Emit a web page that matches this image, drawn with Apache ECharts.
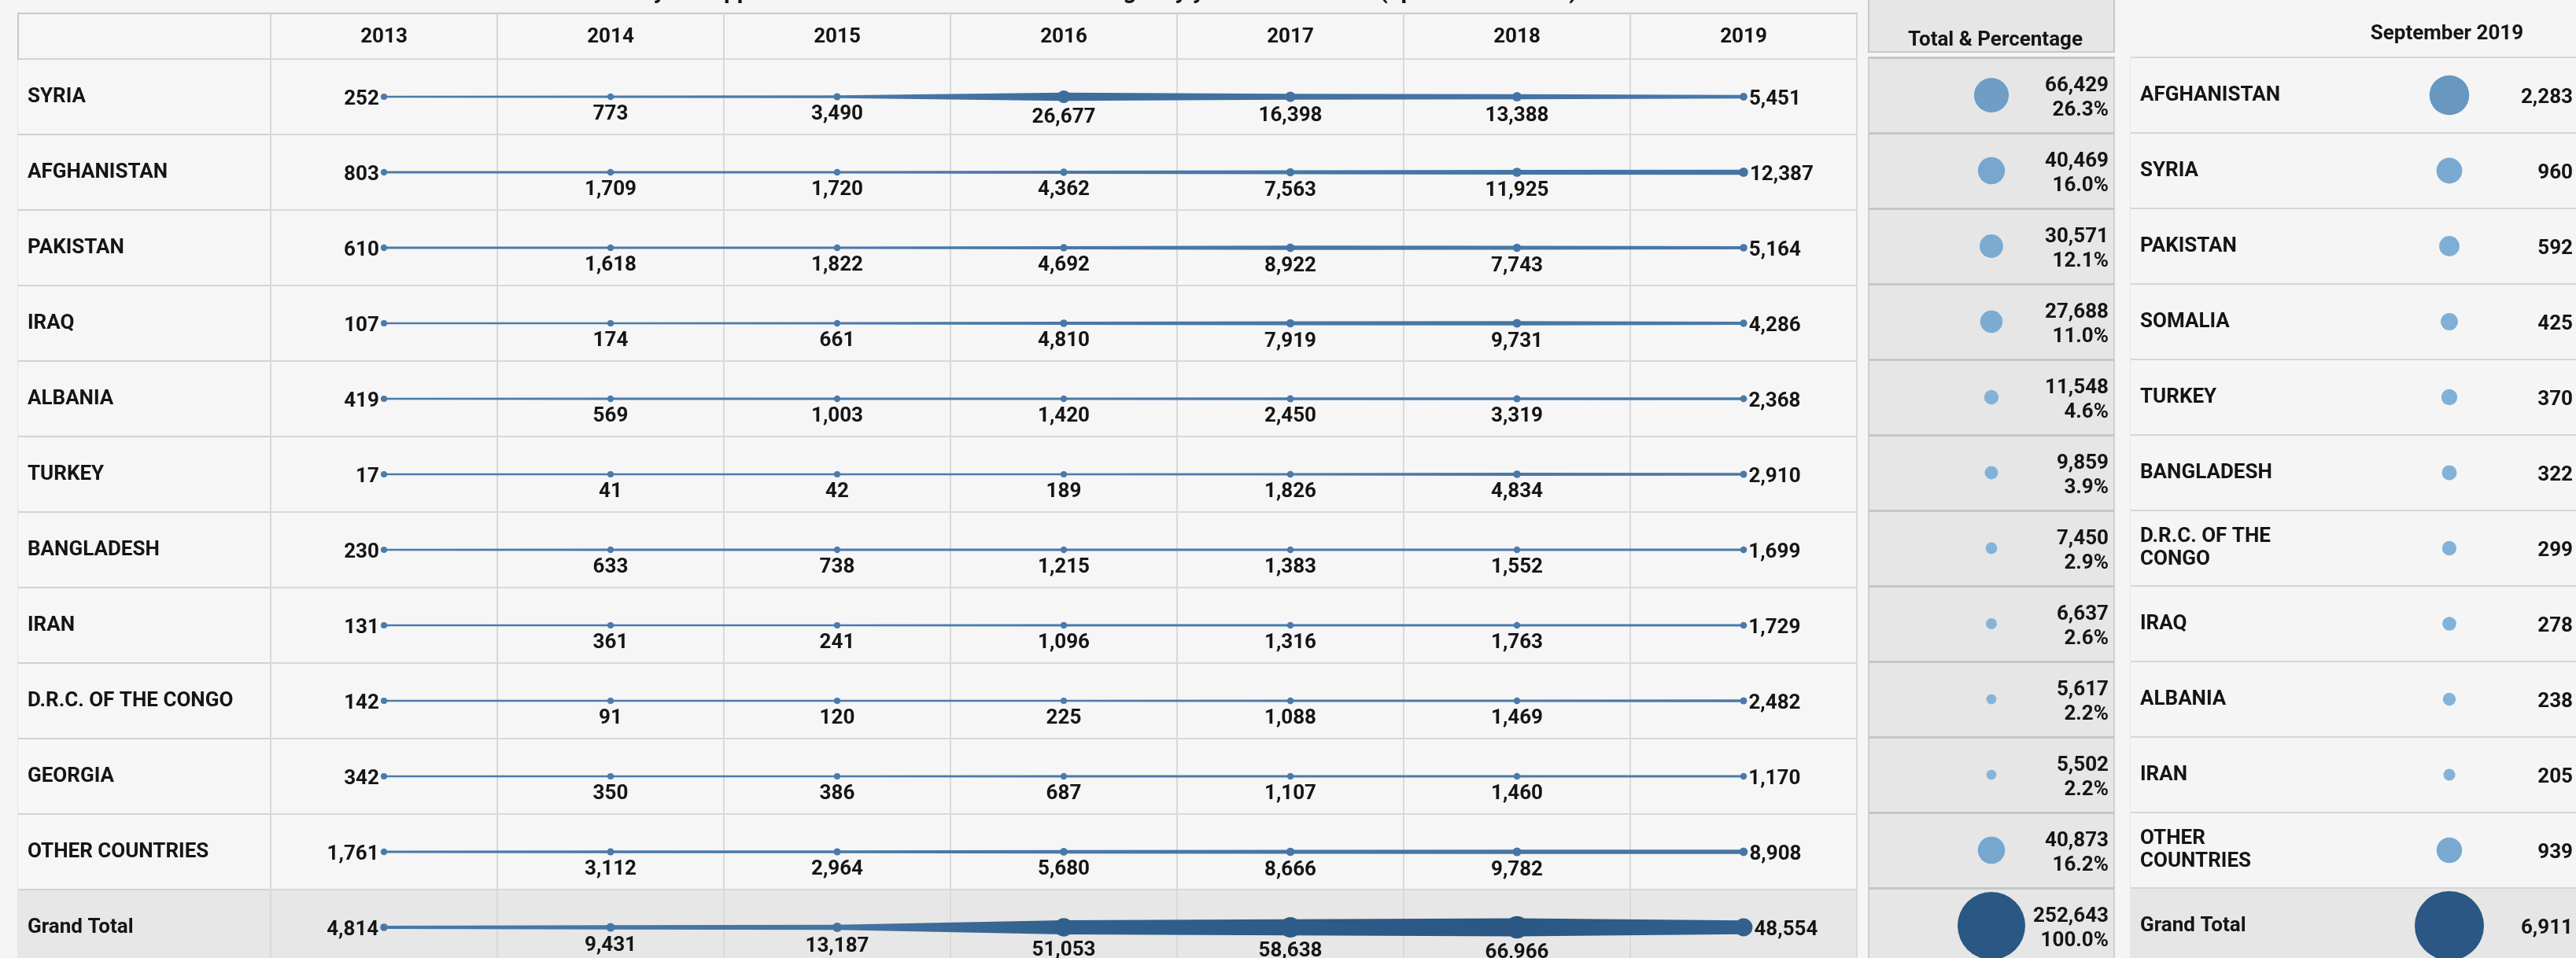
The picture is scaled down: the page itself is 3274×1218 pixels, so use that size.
<!DOCTYPE html>
<html><head><meta charset="utf-8">
<script src="https://cdn.jsdelivr.net/npm/echarts@6/dist/echarts.min.js"></script>
<style>html,body{margin:0;padding:0;background:#f5f5f5;}#c{width:3274px;height:1218px;}</style>
</head><body><div id="c"></div>
<script>
// ---------- data ----------
const years = ['2013','2014','2015','2016','2017','2018','2019'];
const countries = ['SYRIA','AFGHANISTAN','PAKISTAN','IRAQ','ALBANIA','TURKEY','BANGLADESH','IRAN','D.R.C. OF THE CONGO','GEORGIA','OTHER COUNTRIES','Grand Total'];
const syria       = [252, 773, 3490, 26677, 16398, 13388, 5451];
const afghanistan = [803, 1709, 1720, 4362, 7563, 11925, 12387];
const pakistan    = [610, 1618, 1822, 4692, 8922, 7743, 5164];
const iraq        = [107, 174, 661, 4810, 7919, 9731, 4286];
const albania     = [419, 569, 1003, 1420, 2450, 3319, 2368];
const turkey      = [17, 41, 42, 189, 1826, 4834, 2910];
const bangladesh  = [230, 633, 738, 1215, 1383, 1552, 1699];
const iran        = [131, 361, 241, 1096, 1316, 1763, 1729];
const drCongo     = [142, 91, 120, 225, 1088, 1469, 2482];
const georgia     = [342, 350, 386, 687, 1107, 1460, 1170];
const others      = [1761, 3112, 2964, 5680, 8666, 9782, 8908];
const grandTotal  = [4814, 9431, 13187, 51053, 58638, 66966, 48554];
const totals      = [66429, 40469, 30571, 27688, 11548, 9859, 7450, 6637, 5617, 5502, 40873, 252643];
const percents    = [26.3, 16.0, 12.1, 11.0, 4.6, 3.9, 2.9, 2.6, 2.2, 2.2, 16.2, 100.0];
const sepCountries = ['AFGHANISTAN','SYRIA','PAKISTAN','SOMALIA','TURKEY','BANGLADESH','D.R.C. OF THE CONGO','IRAQ','ALBANIA','IRAN','OTHER COUNTRIES','Grand Total'];
const sepValues    = [2283, 960, 592, 425, 370, 322, 299, 278, 238, 205, 939, 6911];
const rows = [syria, afghanistan, pakistan, iraq, albania, turkey, bangladesh, iran, drCongo, georgia, others, grandTotal];

// ---------- helpers ----------
const FONT = 'Roboto, "Noto Sans", sans-serif';
const TXT = '#151515';
const fmt = v => v.toLocaleString('en-US');
function hex(h){return [1,3,5].map(i=>parseInt(h.substr(i,2),16));}
function mix(a,b,t){t=Math.max(0,Math.min(1,t));const A=hex(a),B=hex(b);
  return 'rgb('+A.map((x,i)=>Math.round(x+(B[i]-x)*t)).join(',')+')';}
const lineW = v => 2.6 + v*0.000305;
const lineCol = v => mix('#4b7bab','#2a5783', v/67000);
const bubCol = (v,max) => mix('#86b6dc','#2a5783', v/max);
const totMax = Math.max(...totals), sepMax = Math.max(...sepValues);
const nRows = countries.length;
const rowAreas = countries.map((c,i)=> i===nRows-1 ? '#e7e7e7' : '#f6f6f6');
const sepAreas = sepCountries.map((c,i)=> i===nRows-1 ? '#e6e6e6' : '#f5f5f5');
const labelBase = {fontFamily: FONT, fontWeight: 'bold', fontSize: 26, color: TXT};

// line segments
const segData = [];
rows.forEach((r,ri)=>{ for(let i=0;i<r.length-1;i++) segData.push([i, ri, r[i], r[i+1]]); });
// dots
const dotData = [];
rows.forEach((r,ri)=>{ r.forEach((v,i)=>{
  const last = i===r.length-1, first = i===0;
  dotData.push({value:[i, ri, v], symbolSize: lineW(v)+5.5, itemStyle:{color: lineCol(v), opacity:1},
    label:{position: first?'left':(last?'right':'bottom'), distance: first||last?2:5, offset: first||last?[0,3]:[0,0]}});
});});

const hiddenVal = (g)=>({type:'value', gridIndex:g, show:false});
const splitL = (c,w)=>({show:true, interval:0, lineStyle:{color:c, width:w}});
const G = (o)=>Object.assign({show:true, outerBoundsMode:'none', containLabel:false}, o);

const option = {
  animation:false,
  backgroundColor:'#f5f5f5',
  title:[
    {text:'Asylum applications from main countries of origin by year 2013 - 2019 (up to 30.09.2019)', left:790, top:-30,
     textStyle:{fontFamily:FONT, fontWeight:'bold', fontSize:30, color:TXT}},
    {text:'Total & Percentage', left:2531, top:33, textAlign:'center', textStyle:labelBase},
    {text:'September 2019', left:3105, top:25, textAlign:'center', textStyle:labelBase}
  ],
  grid:[
    G({left:23, top:17, width:321, height:58, backgroundColor:'#f6f6f6', borderColor:'#c9c9c9', borderWidth:2}),
    G({left:344, top:17, width:2016, height:58, backgroundColor:'#f6f6f6', borderColor:'#c9c9c9', borderWidth:2}),
    G({left:23, top:75, width:321, height:1152, borderColor:'#d4d4d4', borderWidth:1}),
    G({left:344, top:75, width:2016, height:1152, borderColor:'#d4d4d4', borderWidth:1}),
    G({left:2375, top:-4, width:312, height:70, backgroundColor:'#e6e6e6', borderColor:'#c8c8c8', borderWidth:2}),
    G({left:2375, top:73, width:312, height:1152, backgroundColor:'#e6e6e6', borderColor:'#d0d0d0', borderWidth:2}),
    G({left:2708, top:73, width:240, height:1152, borderColor:'#d4d4d4', borderWidth:1}),
    G({left:2948, top:73, width:330, height:1152, borderColor:'#d4d4d4', borderWidth:1})
  ],
  xAxis:[
    hiddenVal(0),
    {type:'category', gridIndex:1, data:years, position:'top', axisLine:{show:false}, axisTick:{show:false},
     axisLabel:Object.assign({inside:true, margin:30, verticalAlign:'middle', interval:0, padding:[4,0,0,0]}, labelBase),
     splitLine:splitL('#d6d6d6',2)},
    hiddenVal(2),
    {type:'category', gridIndex:3, data:years, axisLine:{show:false}, axisTick:{show:false}, axisLabel:{show:false},
     splitLine:splitL('#d9d9d9',2)},
    hiddenVal(4),
    {type:'category', gridIndex:5, data:['Total'], show:false},
    hiddenVal(6),
    {type:'category', gridIndex:7, data:['September 2019'], show:false}
  ],
  yAxis:[
    hiddenVal(0),
    hiddenVal(1),
    {type:'category', gridIndex:2, data:countries, inverse:true, axisLine:{show:false}, axisTick:{show:false},
     axisLabel:Object.assign({inside:true, margin:12, align:'left', interval:0, padding:[6,0,0,0]}, labelBase),
     splitLine:splitL('#d2d2d2',2), splitArea:{show:true, areaStyle:{color:rowAreas}}},
    {type:'category', gridIndex:3, data:countries, inverse:true, axisLine:{show:false}, axisTick:{show:false},
     axisLabel:{show:false}, splitLine:splitL('#d9d9d9',2), splitArea:{show:true, areaStyle:{color:rowAreas}}},
    hiddenVal(4),
    {type:'category', gridIndex:5, data:countries, inverse:true, axisLine:{show:false}, axisTick:{show:false},
     axisLabel:{show:false}, splitLine:splitL('#c6c6c6',3)},
    {type:'category', gridIndex:6, data:sepCountries, inverse:true, axisLine:{show:false}, axisTick:{show:false},
     axisLabel:Object.assign({inside:true, margin:12, align:'left', interval:0, width:200, overflow:'break', lineHeight:29, padding:[6,0,0,0]}, labelBase),
     splitLine:splitL('#d6d6d6',2), splitArea:{show:true, areaStyle:{color:sepAreas}}},
    {type:'category', gridIndex:7, data:sepCountries, inverse:true, axisLine:{show:false}, axisTick:{show:false},
     axisLabel:{show:false}, splitLine:splitL('#d6d6d6',2), splitArea:{show:true, areaStyle:{color:sepAreas}}}
  ],
  series:[
    {type:'custom', xAxisIndex:3, yAxisIndex:3, data:segData, z:2, clip:false,
     encode:{x:0, y:1},
     renderItem:function(params, api){
       const i=api.value(0), r=api.value(1), v1=api.value(2), v2=api.value(3);
       const p1=api.coord([i,r]), p2=api.coord([i+1,r]);
       const w1=lineW(v1)/2, w2=lineW(v2)/2;
       return {type:'polygon', shape:{points:[[p1[0],p1[1]-w1],[p2[0],p2[1]-w2],[p2[0],p2[1]+w2],[p1[0],p1[1]+w1]]},
         style:{fill:new echarts.graphic.LinearGradient(0,0,1,0,[{offset:0,color:lineCol(v1)},{offset:1,color:lineCol(v2)}])}};
     }},
    {type:'scatter', xAxisIndex:3, yAxisIndex:3, data:dotData, z:3, clip:false,
     itemStyle:{opacity:1},
     label:Object.assign({show:true, formatter:p=>fmt(p.value[2])}, labelBase)},
    {type:'scatter', xAxisIndex:5, yAxisIndex:5, z:3, itemStyle:{opacity:1},
     data:totals.map((v,i)=>({value:[0,i,v,percents[i]], symbolSize:86*Math.sqrt(v/totMax), itemStyle:{color:bubCol(v,totMax), opacity:1}})),
     label:Object.assign({show:true, position:'inside', align:'right', offset:[149,4], lineHeight:31,
       formatter:p=>fmt(p.value[2])+'\n'+p.value[3].toFixed(1)+'%'}, labelBase)},
    {type:'scatter', xAxisIndex:7, yAxisIndex:7, z:3, itemStyle:{opacity:1},
     data:sepValues.map((v,i)=>({value:[0,i,v], symbolSize:88*Math.sqrt(v/sepMax), itemStyle:{color:bubCol(v,sepMax), opacity:1}})),
     label:Object.assign({show:true, position:'inside', align:'right', offset:[157,3],
       formatter:p=>fmt(p.value[2])}, labelBase)}
  ]
};
const chart = echarts.init(document.getElementById('c'), null, {renderer:'canvas'});
chart.setOption(option);
</script></body></html>
